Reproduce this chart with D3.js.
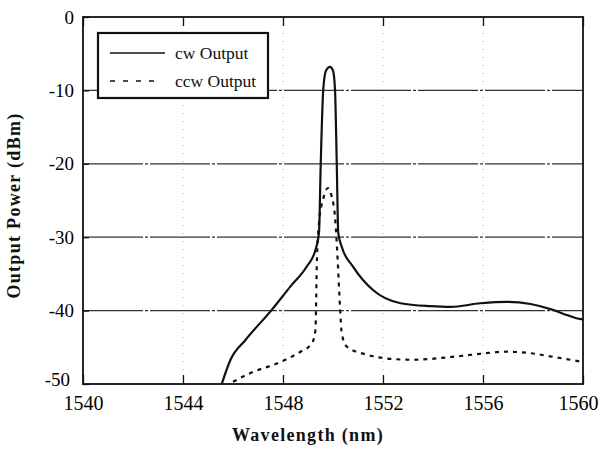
<!DOCTYPE html>
<html>
<head>
<meta charset="utf-8">
<script src="https://cdn.jsdelivr.net/npm/d3@7"></script>
<style>
  body { margin: 0; background: #fff; }
  svg { display: block; }
  .tick text { font-family: "Liberation Serif", serif; font-size: 20px; fill: #000; }
  .yaxis .tick text { font-size: 19px; }
</style>
</head>
<body>
<div id="chart"></div>
<script>
// data
var cwWl  = [1545.55, 1545.9, 1546.5, 1547.55, 1548.3, 1548.95, 1549.3, 1549.44, 1549.51, 1549.61, 1549.72, 1549.88, 1550.0, 1550.08, 1550.15, 1550.21, 1550.35, 1550.8, 1551.6, 1552.7, 1553.9, 1554.7, 1555.9, 1556.95, 1557.9, 1558.8, 1559.35, 1559.7, 1560];
var cwPow = [-50, -46.7, -44, -39.9, -36.7, -34, -31.7, -29.4, -19.9, -9.9, -7.3, -6.8, -7.3, -9.9, -19.9, -29.4, -31.3, -34, -37.2, -39, -39.4, -39.5, -39, -38.8, -39.1, -39.9, -40.6, -41, -41.2];

var ccwWl  = [1546.0, 1546.7, 1547.9, 1548.7, 1549.15, 1549.3, 1549.32, 1549.35, 1549.45, 1549.6, 1549.8, 1549.95, 1550.08, 1550.2, 1550.28, 1550.35, 1550.55, 1551.35, 1552.4, 1553.2, 1554.5, 1555.6, 1556.95, 1557.9, 1558.8, 1559.5, 1560];
var ccwPow = [-49.7, -48.5, -47, -45.6, -44.5, -42.6, -39.9, -34, -27.7, -24.9, -23.3, -24.5, -27.2, -34, -39.5, -43.1, -44.9, -46, -46.6, -46.7, -46.4, -46, -45.6, -45.8, -46.3, -46.7, -47];

var xTicks = [1540, 1544, 1548, 1552, 1556, 1560];
var yTicks = [0, -10, -20, -30, -40, -50];
var seriesNames = ['cw Output', 'ccw Output'];

var margin = { top: 17, right: 16, bottom: 67, left: 83 },
    canvasWidth = 599, canvasHeight = 451,
    width = canvasWidth - margin.left - margin.right,
    height = canvasHeight - margin.top - margin.bottom;

var svg = d3.select('#chart').append('svg')
    .attr('width', canvasWidth)
    .attr('height', canvasHeight)
    .append('g')
    .attr('transform', 'translate(' + margin.left + ',' + margin.top + ')');

var x = d3.scaleLinear().domain([1540, 1560]).range([0, width]);
var y = d3.scaleLinear().domain([-50, 0]).range([height, 0]);

// plain hyphen as in the original print
var fmt = function (d) { return String(d); };

// grid
svg.selectAll('line.hgrid')
    .data(yTicks.filter(function (d) { return d > -50 && d < 0; }))
    .enter().append('line')
    .attr('class', 'hgrid')
    .attr('x1', 0).attr('x2', width)
    .attr('y1', function (d) { return y(d); })
    .attr('y2', function (d) { return y(d); })
    .style('stroke', '#333')
    .style('stroke-width', 1.2)
    .style('stroke-dasharray', '60,2,3,2');

svg.selectAll('line.vgrid')
    .data(xTicks.filter(function (d) { return d > 1540 && d < 1560; }))
    .enter().append('line')
    .attr('class', 'vgrid')
    .attr('y1', 0).attr('y2', height)
    .attr('x1', function (d) { return x(d); })
    .attr('x2', function (d) { return x(d); })
    .style('stroke', '#aaa')
    .style('stroke-width', 1)
    .style('stroke-dasharray', '1,7');

// axes
var xAxis = svg.append('g')
    .attr('transform', 'translate(0,' + height + ')')
    .call(d3.axisBottom(x).tickValues(xTicks).tickSizeInner(-9).tickSizeOuter(0).tickPadding(16).tickFormat(fmt));
xAxis.selectAll('.tick text').attr('dy', '0.5em')
    .attr('dx', function (d) { return d === 1560 ? -5 : 0; });

svg.append('g')
    .call(d3.axisTop(x).tickValues(xTicks).tickSizeInner(-9).tickSizeOuter(0).tickFormat(''));

var yAxis = svg.append('g')
    .attr('class', 'yaxis')
    .call(d3.axisLeft(y).tickValues(yTicks).tickSizeInner(-6).tickSizeOuter(0).tickPadding(9).tickFormat(fmt));
yAxis.selectAll('.tick text')
    .attr('dx', function (d) { return d === -50 ? -4 : 0; })
    .attr('dy', function (d) { return d === -50 ? '0.1em' : '0.32em'; });

svg.selectAll('.domain').remove();
svg.selectAll('.tick line').style('stroke', '#111').style('stroke-width', 1.3);

// frame
svg.append('rect')
    .attr('width', width).attr('height', height)
    .style('fill', 'none')
    .style('stroke', '#111')
    .style('stroke-width', 1.8);

// lines
var line = d3.line()
    .x(function (d) { return x(d[0]); })
    .y(function (d) { return y(d[1]); })
    .curve(d3.curveMonotoneX);

svg.append('path')
    .datum(d3.zip(cwWl, cwPow))
    .attr('d', line)
    .style('fill', 'none')
    .style('stroke', '#111')
    .style('stroke-width', 2.2);

svg.append('path')
    .datum(d3.zip(ccwWl, ccwPow))
    .attr('d', line)
    .style('fill', 'none')
    .style('stroke', '#111')
    .style('stroke-width', 2.2)
    .style('stroke-dasharray', '4,5');

// legend
var legend = svg.append('g').attr('transform', 'translate(15,16)');
legend.append('rect')
    .attr('width', 170).attr('height', 65)
    .style('fill', '#fff')
    .style('stroke', '#111')
    .style('stroke-width', 2.2);

var legendg = legend.selectAll('g.legendg')
    .data(seriesNames)
    .enter().append('g')
    .attr('class', 'legendg')
    .attr('transform', function (d, i) { return 'translate(0,' + (20 + i * 28) + ')'; });

legendg.append('line')
    .attr('x1', 12)
    .attr('x2', function (d, i) { return i ? 62 : 67; })
    .style('stroke', '#111')
    .style('stroke-width', 1.6)
    .style('stroke-dasharray', function (d, i) { return i ? '5,8' : null; });

legendg.append('text')
    .attr('x', 77)
    .attr('dy', '0.35em')
    .style('font-family', '"Liberation Serif", serif')
    .style('font-size', '17.5px')
    .style('fill', '#111')
    .text(function (d) { return d; });

// axis titles
svg.append('text')
    .attr('x', width / 2 - 25)
    .attr('y', height + 57)
    .style('text-anchor', 'middle')
    .style('font-family', '"Liberation Serif", serif')
    .style('font-weight', 'bold')
    .style('font-size', '18px')
    .style('letter-spacing', '1.3px')
    .style('fill', '#111')
    .text('Wavelength  (nm)');

svg.append('text')
    .attr('transform', 'translate(' + (-63) + ',' + (height / 2 + 5) + ') rotate(-90)')
    .style('text-anchor', 'middle')
    .style('font-family', '"Liberation Serif", serif')
    .style('font-weight', 'bold')
    .style('font-size', '18px')
    .style('letter-spacing', '1.3px')
    .style('fill', '#111')
    .text('Output  Power  (dBm)');
</script>
</body>
</html>
